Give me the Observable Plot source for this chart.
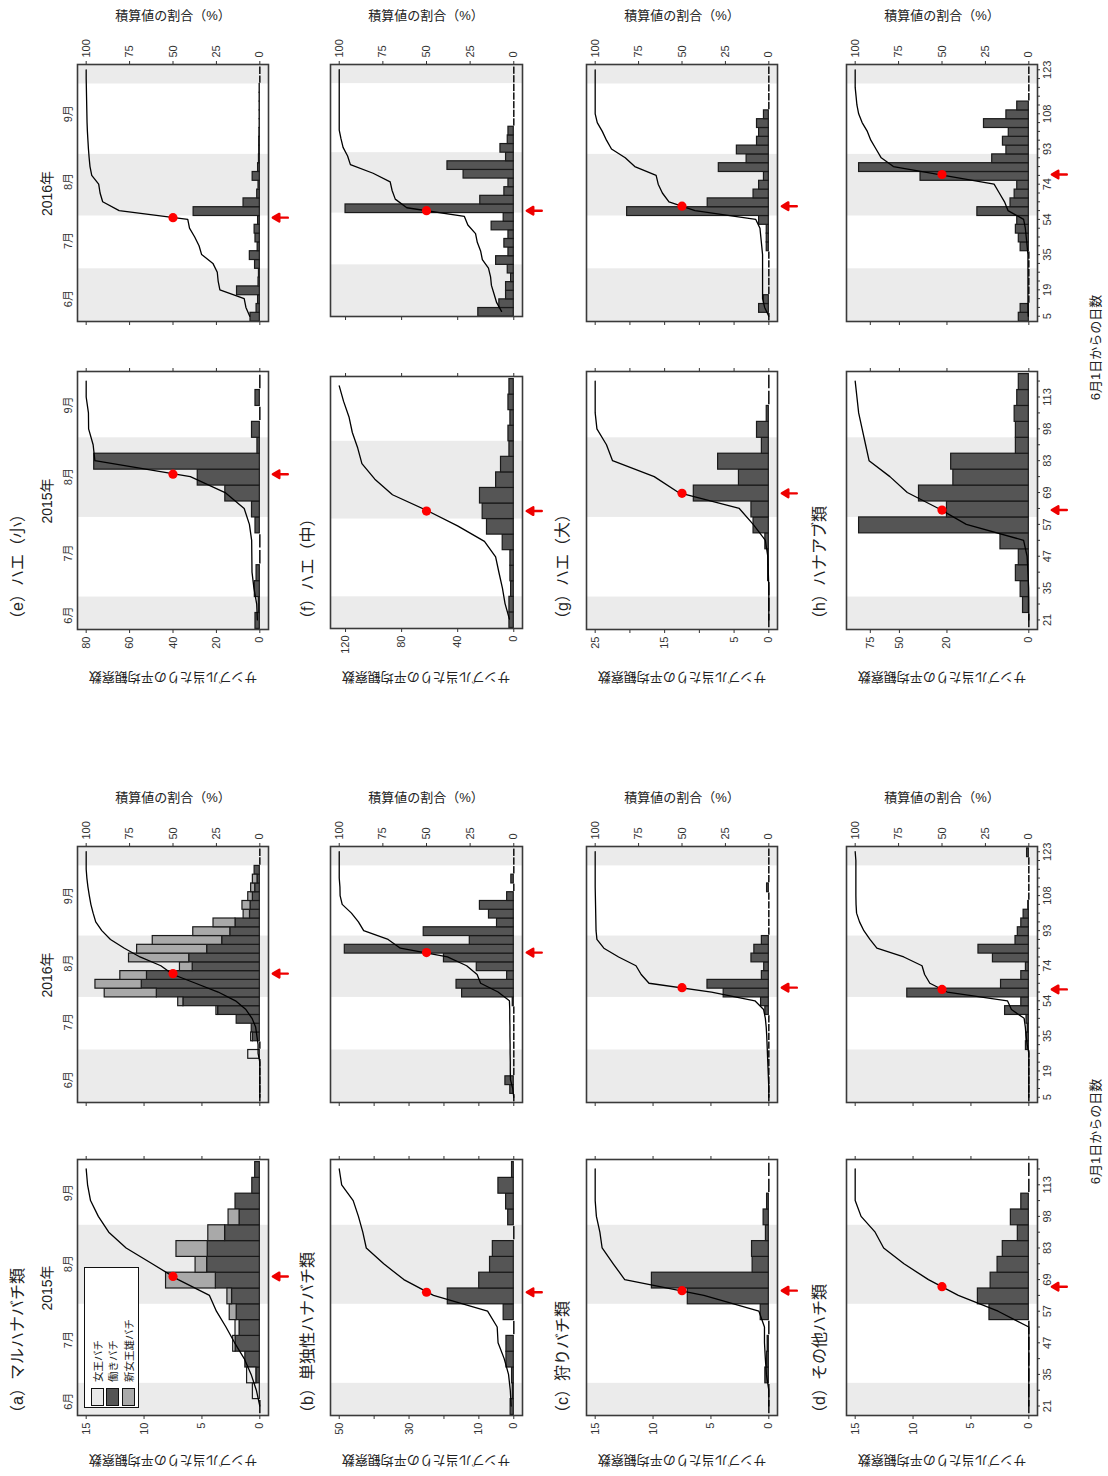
<!DOCTYPE html>
<html><head><meta charset="utf-8">
<script src="https://cdn.jsdelivr.net/npm/d3@7"></script>
<script src="https://cdn.jsdelivr.net/npm/@observablehq/plot@0.6"></script>
<style>
html,body{margin:0;padding:0;background:#fff;width:1108px;height:1476px;overflow:hidden;}
#fig{position:absolute;left:0;top:0;width:1476px;height:1108px;transform-origin:0 0;transform:translate(0,1476px) rotate(-90deg);font-family:"Liberation Sans","Noto Sans CJK JP",sans-serif;color:#222;background:#fff;}
.abs{position:absolute;white-space:nowrap;line-height:1;}
.pl{position:absolute;}
</style></head><body><div id="fig"></div><script>
// ---------- x axis: sampling occasions (days since 1 June) ----------
const n2015 = 16, n2016 = 29;
const dayLabels2015 = ["21","35","47","57","69","83","98","113"];
const dayIdx2015 = [0,2,4,6,8,10,12,14];
const dayLabels2016 = ["5","19","35","54","74","93","108","123"];
const dayIdx2016 = [0,3,7,11,15,19,23,28];
const monthNames = ["6月","7月","8月","9月"];
const monthPos2015 = [0.3,4.2,9,13.5];
const monthPos2016 = [2,8.6,15.3,23];
const shade2015 = [[-0.6,1.5],[6.5,11.5]];
const shade2016 = [[-0.6,5.5],[11.5,18.5],[26.5,28.6]];

// ---------- (a) マルハナバチ類 (stacked castes) ----------
const a15Worker = [0,0,0.3,1.25,2.1,1.75,2.0,2.4,3.8,4.55,4.5,3.0,1.75,2.1,0.65,0.4];
const a15Queen  = [0,0.6,0.8,0,0.2,0.35,0,0,0,0,0,0,0,0,0,0];
const a15NewQ   = [0,0,0,0,0,0,0.6,0.4,4.3,1.0,2.7,1.45,0.95,0,0,0];
const a15Cum    = [0,2,5,9,14.5,19.5,25,29,47,62,77,87,93,97.5,99.2,100];
const a16Worker = [0,0,0,0,0,0,0,0.6,0.7,2.0,3.6,6.6,8.9,10.2,9.75,5.8,6.1,4.55,3.25,2.55,2.1,0.85,0.8,0.6,0.4,0.2,0.45,0,0];
const a16Queen  = [0,0,0,0,0,1.0,0,0.15,0,0,0,0,0,0,0,0,0,0,0,0,0,0,0,0,0,0,0,0,0];
const a16NewQ   = [0,0,0,0,0,0,0,0,0,0,0.15,0.45,4.5,4.0,2.3,1.1,5.2,6.05,6.0,3.2,1.9,0.55,0.7,0.4,0.35,0.4,0,0,0];
const a16Cum    = [0,0,0,0,0,1,1,1.7,2.4,4.5,8,14,24,37,50,57,69,78,86,91,94.5,96,97.3,98.2,99,99.6,100,100,100];
// ---------- (b) 単独性ハナバチ類 ----------
const b15 = [0.9,0.3,0.5,2.1,2.1,0,2.9,18.9,9.9,6.8,6.0,0,1.6,2.2,4.4,0.5];
const b15Cum = [1.5,2,3,5.5,9,9.5,15,46,63,74.5,84.5,86.5,89,92,98.6,100];
const b16 = [0,1.0,2.4,0,0,0,0,0,0,0,0,0.3,14.8,16.4,1.9,10.6,20.0,48.4,12.6,25.8,4.8,7.1,9.7,1.9,0,0.7,0,0,0];
const b16Cum = [0,0.6,1.9,2,2,2.1,2.1,2.2,2.2,2.3,2.3,2.5,9,19,21,27,38,65,72,86,89,93,98.3,99.5,99.6,100,100,100,100];
// ---------- (c) 狩りバチ類 ----------
const c15 = [0,0,0.3,0.15,0.1,0,0.7,7.0,10.1,1.4,1.45,0.25,0.45,0.15,0,0];
const c15Cum = [0,0,1.4,2,2.5,2.5,5.7,37.4,83,89.6,96,97.3,99.3,100,100,100];
const c16 = [0,0,0,0,0,0,0,0,0,0,0.3,0.67,3.9,5.3,0.6,0.4,1.5,1.25,0.6,0,0,0,0,0,0.15,0,0,0,0];
const c16Cum = [0,0,0.2,0.4,0.6,0.8,1,1.2,1.5,2,3,8,33,69,73.5,76.5,86.5,95,99,99.5,99.6,99.7,99.8,99.9,100,100,100,100,100];
// ---------- (d) その他ハチ類 ----------
const d15 = [0,0,0,0,0,0,3.4,4.4,3.3,2.7,2.25,0.95,1.55,0.65,0,0];
const d15Cum = [0,0,0,0,0,0,17.7,40.6,57.8,71.9,83.6,88.5,96.6,100,100,100];
const d16 = [0,0,0,0,0,0,0.25,0.2,0.1,0.2,2.05,0.65,10.5,2.4,0.65,0.25,3.1,4.35,1.15,0.95,0.65,0.45,0.05,0,0,0,0,0,0.15];
const d16Cum = [0,0,0,0,0,0,0.9,1.6,2,2.7,10,12.3,47,57,60,61.5,72,87.5,91.5,95,97.5,99.2,99.5,99.6,99.6,99.6,99.6,99.6,100];
// ---------- (e) ハエ(小) ----------
const e15 = [2.0,0.5,2.3,1.5,0,0,2.0,3.6,15.9,28.6,76.3,1.1,3.6,0,2.0,0];
const e15Cum = [1.4,1.8,3.4,4.5,4.6,4.7,6,9,20,40,95,96,98.6,98.7,100,100];
const e16 = [4.3,1.5,0.8,10.5,0.6,0.4,2.2,4.6,1.0,2.0,2.4,0.8,30.5,7.5,1.2,0.6,3.3,0.8,0.4,0.3,0.3,0.2,0.1,0.1,0.1,0.1,0.1,0,0];
const e16Cum = [5.8,8,9,23,24,24.5,27,33.5,35,37.5,40.5,41.5,81,90.5,92,92.8,96.8,97.8,98.3,98.7,99,99.3,99.5,99.6,99.7,99.8,99.9,100,100];
// ---------- (f) ハエ(中) ----------
const f15 = [3.1,3.1,1.9,2.4,2.4,7.9,19.1,22.2,24.1,12.6,9.1,3.1,3.8,2.4,3.8,3.1];
const f15Cum = [2.5,5,6.5,8.5,10.4,16.8,32.2,50,69.5,79.6,87,89.4,92.5,94.4,97.5,100];
const f16 = [25.3,10.3,5.5,5.5,1.9,4.3,12.6,3.8,6.7,3.8,15.8,7.2,120,23.9,6.7,3.8,35.8,47.3,5.5,9.5,4.3,3.8,0,0,0,0,0,0,0];
const f16Cum = [7,9.8,11.3,12.8,13.3,14.5,18,19,20.9,21.9,26.3,28.3,61.3,67.9,69.7,70.8,80.6,93.6,95.2,97.8,99,100,100,100,100,100,100,100,100];
// ---------- (g) ハエ(大) ----------
const g15 = [0,0,0,0.1,0.1,0.5,2.2,2.5,10.8,4.3,7.3,1.0,1.7,0.3,0,0];
const g15Cum = [0,0,0,0.3,0.6,2,9,17,52,66,90,93.5,99,100,100,100];
const g16 = [0,1.4,0.7,0,0,0,0,0,0.3,0.3,0.3,1.4,20.4,8.8,2.2,1.4,0.7,7.2,3.2,4.6,1.7,1.4,1.7,0.7,0,0,0,0,0];
const g16Cum = [0,2.4,3.6,3.6,3.6,3.6,3.6,3.6,4.1,4.6,5.1,7.5,42.5,57.5,61.3,63.7,64.9,77.2,82.7,90.6,93.5,95.9,98.8,100,100,100,100,100,100];
// ---------- (h) ハナアブ類 (square-root axis) ----------
const h15 = [0,0.1,0.2,0.5,0.3,2.4,86,20,36,17,18,0.5,0.5,0.6,0.4,0.3];
const h15Cum = [0,0,0.1,0.5,1,3,36,52,70,80,92,94,96,98,99,100];
const h16 = [0.3,0.2,0,0,0,0,0,0,0.2,0.3,0.5,0.4,7.9,1.0,0.6,0.4,35,86,4,1.5,2,1.2,6,1.5,0.4,0,0,0,0];
const h16Cum = [0.3,0.5,0.5,0.5,0.5,0.5,0.5,0.5,1,1.5,2,3,12,14,17,20,49,78,85,88,91,93,96,98,99,99.5,100,100,100];

const redIdx2015 = [8.2,7.2,7.3,7.55,9.15,6.95,7.95,6.9];
const redIdx2016 = [14.1,16.5,12.5,12.3,11.2,11.66,12.5,16.1];

const titles = ["（a）マルハナバチ類","（b）単独性ハナバチ類","（c）狩りバチ類","（d）その他ハチ類","（e）ハエ（小）","（f）ハエ（中）","（g）ハエ（大）","（h）ハナアブ類"];
const yMaxes = [15,50,15,15,80,124.5,25,90];
const yTickVals = [[0,5,10,15],[0,10,20,30,40,50],[0,5,10,15],[0,5,10,15],[0,20,40,60,80],[0,40,80,120],[0,5,10,15,20,25],[0,20,50,75]];
const yTickLabs = [["0","5","10","15"],["0","10","","30","","50"],["0","5","10","15"],["0","5","10","15"],["0","20","40","60","80"],["0","40","80","120"],["0","5","","15","","25"],["0","20","50","75"]];
const legendLabels = ["女王バチ","働きバチ","新女王雄バチ"];

// ---------- styling / layout ----------
const WORKER = "#555555", QUEEN = "#e9e9e9", NEWQ = "#a9a9a9";
const fig = document.getElementById("fig");
const FONT = '"Liberation Sans","Noto Sans CJK JP",sans-serif';

function addText(txt, x, y, size, opts = {}) {
  const d = document.createElement("div");
  d.className = "abs";
  d.textContent = txt;
  d.style.left = x + "px"; d.style.top = y + "px";
  d.style.fontSize = size + "px";
  let tr = opts.start ? "translate(0,-50%) " : "translate(-50%,-50%) ";
  if (opts.rotate) tr += `rotate(${opts.rotate}deg)`;
  d.style.transform = tr;
  fig.appendChild(d);
  return d;
}

const arrowShape = {
  draw(ctx, l) {
    ctx.moveTo(0, 0); ctx.lineTo(0, -l + 4);
    ctx.moveTo(0, -l); ctx.lineTo(-3.8, -l + 6.5); ctx.lineTo(3.8, -l + 6.5); ctx.closePath();
  }
};

function drawPanel(o) {
  const mL = 50, mR = 50, mT = 40, mB = 40;
  const f = o.frame;
  const W = f.w + mL + mR, H = f.h + mT + mB;
  const n = o.n;
  const xd = [-0.6, n - 0.4];
  let yd, toY;
  if (o.sqrt) { const s = Math.sqrt(o.yMax); yd = [-((0.05 * s) ** 2), (1.05 * s) ** 2]; toY = p => (p / 100 * s) ** 2; }
  else { yd = [-0.05 * o.yMax, 1.05 * o.yMax]; toY = p => p / 100 * o.yMax; }
  const totals = new Array(n).fill(0);
  const layers = o.series.map(s => {
    const r = [];
    s.v.forEach((v, i) => { if (v > 0) { r.push({i, y0: totals[i], y1: totals[i] + v}); totals[i] += v; } });
    return {fill: s.fill, rects: r};
  });
  const zeros = d3.range(n).filter(i => totals[i] === 0);
  const yLab = new Map(o.yTicks.map((t, k) => [t, o.yLabels[k]]));
  const pct = [0, 25, 50, 75, 100];
  const pctVals = pct.map(toY);
  const pctLab = new Map(pctVals.map((v, k) => [v, String(pct[k])]));
  const marks = [
    Plot.rect(o.shade, {x1: d => d[0], x2: d => d[1], y1: () => yd[0], y2: () => yd[1], fill: "#ebebeb"}),
    ...layers.map(L => Plot.rect(L.rects, {x1: d => d.i - 0.5, x2: d => d.i + 0.5, y1: d => d.y0, y2: d => d.y1, fill: L.fill, stroke: "#1a1a1a", strokeWidth: 1.2})),
    Plot.ruleY(zeros, {x1: i => i - 0.42, x2: i => i + 0.42, y: () => 0, stroke: "#1a1a1a", strokeWidth: 1.6}),
    Plot.line(o.cum.map((c, i) => ({i, y: toY(c)})), {x: "i", y: "y", stroke: "#000", strokeWidth: 1.3}),
    Plot.dot([o.red], {x: d => d, y: () => toY(50), r: 4.6, fill: "#ff0000", stroke: "none"}),
    Plot.vector([o.red], {x: d => d, y: () => 0, length: 15, rotate: 0, anchor: "end", dy: o.arrowDy, stroke: "#ee0000", fill: "#ee0000", strokeWidth: 2.4, shape: arrowShape}),
    Plot.frame({stroke: "#3a3a3a", strokeWidth: 1.6})
  ];
  if (!o.is2016) {
    marks.push(Plot.axisY({anchor: "left", ticks: o.yTicks, tickFormat: v => yLab.get(v), tickSize: 3, tickPadding: 4, fontSize: 11, label: null}));
    marks.push(Plot.axisY({anchor: "right", ticks: o.yTicks, tickFormat: () => "", tickSize: 3, label: null}));
  } else {
    marks.push(Plot.axisY({anchor: "left", ticks: o.yTicks, tickFormat: () => "", tickSize: 3, label: null}));
    marks.push(Plot.axisY({anchor: "right", ticks: pctVals, tickFormat: v => pctLab.get(v), tickSize: 3, tickPadding: 4, fontSize: 11, label: null}));
  }
  if (o.showDays) {
    const dm = new Map(o.dayIdx.map((d, k) => [d, o.dayLabels[k]]));
    marks.push(Plot.axisX({anchor: "bottom", ticks: d3.range(n), tickFormat: i => dm.get(i) ?? "", tickSize: 3, tickPadding: 3, fontSize: 11, label: null}));
  }
  if (o.showMonths) {
    marks.push(Plot.text(o.months, {x: d => d, text: (d, i) => monthNames[i], frameAnchor: "top", dy: -9, fontSize: 11, lineAnchor: "middle"}));
  }
  const svg = Plot.plot({
    width: W, height: H, marginLeft: mL, marginRight: mR, marginTop: mT, marginBottom: mB,
    x: {type: "linear", domain: xd, label: null, ...(o.showDays ? {} : {axis: null})},
    y: {type: o.sqrt ? "sqrt" : "linear", domain: yd, label: null},
    style: {background: "transparent", overflow: "visible", fontFamily: FONT, fontSize: "11px", color: "#333"},
    marks
  });
  const wrap = document.createElement("div");
  wrap.className = "pl";
  wrap.style.left = (f.x - mL) + "px";
  wrap.style.top = (f.y - mT) + "px";
  wrap.appendChild(svg);
  fig.appendChild(wrap);
}

const rowY = [{y: 77, h: 191}, {y: 330, h: 192}, {y: 586, h: 191}, {y: 846, h: 191}];
const frames = {
  L15: {x: 60, w: 256}, L16: {x: 373, w: 256},
  R15: {x: 846, w: 258}, R16: {x: 1154, w: 257},
  R15f: {x: 847, w: 252}, R16f: {x: 1159, w: 252}
};
const series2015 = [
  [{v: a15Worker, fill: WORKER}, {v: a15Queen, fill: QUEEN}, {v: a15NewQ, fill: NEWQ}],
  [{v: b15, fill: WORKER}], [{v: c15, fill: WORKER}], [{v: d15, fill: WORKER}],
  [{v: e15, fill: WORKER}], [{v: f15, fill: WORKER}], [{v: g15, fill: WORKER}], [{v: h15, fill: WORKER}]
];
const series2016 = [
  [{v: a16Worker, fill: WORKER}, {v: a16Queen, fill: QUEEN}, {v: a16NewQ, fill: NEWQ}],
  [{v: b16, fill: WORKER}], [{v: c16, fill: WORKER}], [{v: d16, fill: WORKER}],
  [{v: e16, fill: WORKER}], [{v: f16, fill: WORKER}], [{v: g16, fill: WORKER}], [{v: h16, fill: WORKER}]
];
const cums2015 = [a15Cum, b15Cum, c15Cum, d15Cum, e15Cum, f15Cum, g15Cum, h15Cum];
const cums2016 = [a16Cum, b16Cum, c16Cum, d16Cum, e16Cum, f16Cum, g16Cum, h16Cum];
const titleY = [18, 308, 563, 820];

for (let k = 0; k < 8; k++) {
  const right = k >= 4, r = k % 4;
  const fr15 = right ? (k === 5 ? frames.R15f : frames.R15) : frames.L15;
  const fr16 = right ? (k === 5 ? frames.R16f : frames.R16) : frames.L16;
  const ry = rowY[r];
  const common = {yMax: yMaxes[k], sqrt: k === 7, yTicks: yTickVals[k], yLabels: yTickLabs[k], showDays: r === 3, showMonths: r === 0, arrowDy: r === 3 ? 23 : 13};
  drawPanel({...common, frame: {x: fr15.x, w: fr15.w, y: ry.y, h: ry.h}, n: n2015, series: series2015[k], cum: cums2015[k], red: redIdx2015[k], is2016: false, shade: shade2015, months: monthPos2015, dayIdx: dayIdx2015, dayLabels: dayLabels2015});
  drawPanel({...common, frame: {x: fr16.x, w: fr16.w, y: ry.y, h: ry.h}, n: n2016, series: series2016[k], cum: cums2016[k], red: redIdx2016[k], is2016: true, shade: shade2016, months: monthPos2016, dayIdx: dayIdx2016, dayLabels: dayLabels2016});
  addText(titles[k], right ? 849 : 55, titleY[r], 16, {start: true});
  const cy = ry.y + ry.h / 2;
  addText("サンプル当たりの平均観察数", right ? 799 : 16, cy, 13, {rotate: -90});
  addText("積算値の割合（%）", right ? 1461 : 679, cy, 13, {rotate: 90});
  if (r === 0) {
    addText("2015年", fr15.x + fr15.w / 2, 47, 14);
    addText("2016年", fr16.x + fr16.w / 2, 47, 14);
  }
  if (r === 3) {
    addText("6月1日からの日数", (fr15.x + fr16.x + fr16.w) / 2, 1095, 13);
  }
}

// legend in (a) 2015
const lg = document.createElement("div");
lg.className = "abs";
Object.assign(lg.style, {left: "68px", top: "84px", width: "139px", height: "53px", border: "1.5px solid #111", background: "#fff"});
fig.appendChild(lg);
const swFill = [QUEEN, WORKER, NEWQ];
legendLabels.forEach((t, k) => {
  const sw = document.createElement("div");
  sw.className = "abs";
  Object.assign(sw.style, {left: "70px", top: (90.5 + k * 15.5) + "px", width: "16px", height: "11px", background: swFill[k], border: "1.6px solid #111"});
  fig.appendChild(sw);
  addText(t, 94, 97.5 + k * 15.5, 10.5, {start: true});
});
</script></body></html>
